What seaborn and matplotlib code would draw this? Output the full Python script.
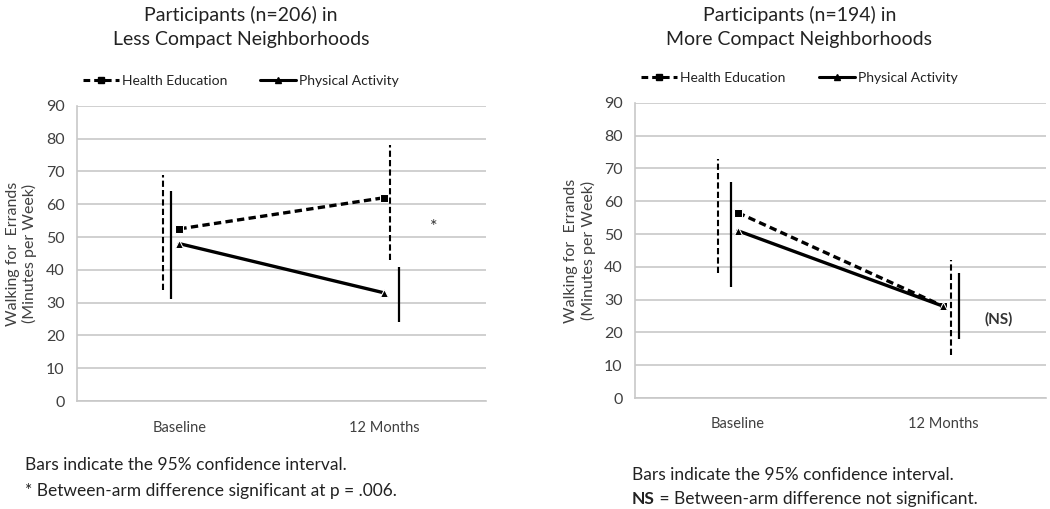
import matplotlib
matplotlib.use("Agg")
import matplotlib.pyplot as plt
from matplotlib.lines import Line2D
import seaborn as sns
import pandas as pd

# data
times = ["Baseline", "12 Months"]
arms = ["Health Education", "Physical Activity"]

less_he = [52.5, 62]
less_pa = [48, 33]
less_he_lo = [34, 43]
less_he_hi = [69, 78]
less_pa_lo = [31, 24]
less_pa_hi = [64, 41]

more_he = [56.5, 28]
more_pa = [51, 28]
more_he_lo = [38, 13]
more_he_hi = [73, 42]
more_pa_lo = [34, 18]
more_pa_hi = [66, 38]

sns.set_style("white")
plt.rcParams['font.family'] = ['Lato', 'DejaVu Sans']

grey = "#404040"
grid = "#c8c8c8"


def make_df(he, pa):
    rows = []
    for i, t in enumerate(times):
        rows.append({"pos": i, "value": he[i], "arm": arms[0]})
        rows.append({"pos": i, "value": pa[i], "arm": arms[1]})
    return pd.DataFrame(rows)


def draw_panel(ax, title, he, pa, he_lo, he_hi, pa_lo, pa_hi, ci_off, note, note_xy, note_bold, pad):
    df = make_df(he, pa)
    sns.lineplot(data=df, x="pos", y="value", hue="arm", style="arm",
                 palette=["black", "black"],
                 markers={arms[0]: "s", arms[1]: "^"},
                 dashes={arms[0]: (2.2, 1.3), arms[1]: ""},
                 markersize=6, linewidth=2.4, legend=False, ax=ax, zorder=3)

    # confidence interval bars, offset sideways like the original
    for i in range(len(times)):
        ax.vlines(i + ci_off[i][0], he_lo[i], he_hi[i], colors="black",
                  linestyles=(0, (3, 1.5)), linewidth=1.5)
        ax.vlines(i + ci_off[i][1], pa_lo[i], pa_hi[i], colors="black",
                  linewidth=1.6)

    ax.set_xlim(-0.5, 1.5)
    ax.set_ylim(0, 90)
    ax.set_yticks(range(0, 91, 10))
    ax.set_xticks([0, 1])
    ax.set_xticklabels(times)
    ax.set_xticks([-0.5, 0.5, 1.5], minor=True)
    ax.tick_params(axis="x", which="major", length=0, pad=14, labelsize=10.5, labelcolor=grey)
    ax.tick_params(axis="x", which="minor", length=5, color=grid, direction="out")
    ax.tick_params(axis="y", length=5, color=grid, labelsize=11.5, labelcolor=grey, pad=4)
    ax.yaxis.grid(True, color=grid, linewidth=1.2)
    ax.set_axisbelow(True)
    for s in ["top", "right"]:
        ax.spines[s].set_visible(False)
    for s in ["left", "bottom"]:
        ax.spines[s].set_color(grid)
        ax.spines[s].set_linewidth(1.2)
    ax.set_xlabel("")
    ax.set_ylabel("Walking for  Errands\n(Minutes per Week)", fontsize=11.5, color=grey, labelpad=6)
    ax.set_title(title, fontsize=14, color="#222222", pad=pad, linespacing=1.5, x=0.4)

    handles = [
        Line2D([], [], color="black", linestyle=(0, (2.2, 1.3)), marker="s", markersize=5, linewidth=2.2),
        Line2D([], [], color="black", linestyle="-", marker="^", markersize=5, linewidth=2.2),
    ]
    ax.legend(handles, arms, loc="lower center", bbox_to_anchor=(0.40, 1.045), ncol=2,
              frameon=False, fontsize=10, handlelength=2.6, handletextpad=0.2,
              columnspacing=2.4, labelcolor="#222222", borderaxespad=0)

    ax.text(note_xy[0], note_xy[1], note, fontsize=11 if note_bold else 13,
            fontweight="bold" if note_bold else "normal", color="#333333",
            ha="center", va="center")


fig = plt.figure(figsize=(10.5, 5.09), dpi=100)
ax1 = fig.add_axes([0.0733, 0.212, 0.390, 0.580])
ax2 = fig.add_axes([0.605, 0.218, 0.391, 0.580])

draw_panel(ax1, "Participants (n=206) in\nLess Compact Neighborhoods",
           less_he, less_pa, less_he_lo, less_he_hi, less_pa_lo, less_pa_hi,
           [(-0.078, -0.04), (0.03, 0.075)], "*", (1.24, 53), False, 44)
draw_panel(ax2, "Participants (n=194) in\nMore Compact Neighborhoods",
           more_he, more_pa, more_he_lo, more_he_hi, more_pa_lo, more_pa_hi,
           [(-0.098, -0.034), (0.039, 0.078)], "(NS)", (1.27, 24), True, 41.5)

fs = 12.5
fig.text(0.024, 0.087, "Bars indicate the 95% confidence interval.", fontsize=fs,
         color="#222222", va="center")
fig.text(0.024, 0.036, "* Between-arm difference significant at p = .006.", fontsize=fs,
         color="#222222", va="center")
fig.text(0.602, 0.067, "Bars indicate the 95% confidence interval.", fontsize=fs,
         color="#222222", va="center")
ns = fig.text(0.602, 0.020, "NS", fontsize=fs, fontweight="bold",
              color="#222222", va="center")
fig.canvas.draw()
bb = ns.get_window_extent()
x_after = bb.x1 / fig.bbox.width
fig.text(x_after, 0.020, " = Between-arm difference not significant.", fontsize=fs,
         color="#222222", va="center")

fig.savefig("out.png", dpi=100)
